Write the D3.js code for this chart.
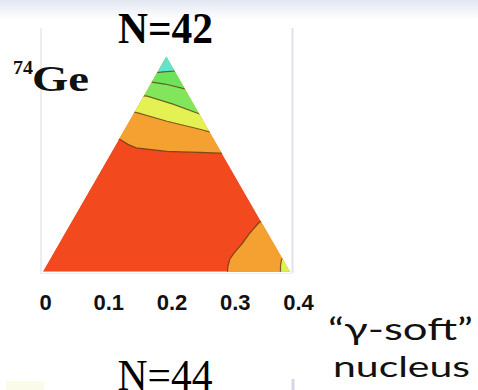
<!DOCTYPE html>
<html>
<head>
<meta charset="utf-8">
<script src="https://cdnjs.cloudflare.com/ajax/libs/d3/7.8.5/d3.min.js"></script>
<style>
body { margin: 0; background: #fff; }
</style>
</head>
<body>
<script>
// beta-gamma triangle (beta*cos(gamma), beta*sin(gamma))
var triangle = [[0, 0], [0.4, 0], [0.2, 0.346]];

var tickValues = [0, 0.1, 0.2, 0.3, 0.4];
var tickLabels = ["0", "0.1", "0.2", "0.3", "0.4"];

// contour boundaries, left to right
var redOrangeLine = [[0.1137, 0.2138], [0.1250, 0.2130], [0.1380, 0.2049], [0.1509, 0.1993], [0.2010, 0.1936], [0.2544, 0.1920], [0.2965, 0.1904]];
var orangeYellowLine = [[0.1412, 0.2575], [0.1525, 0.2559], [0.2010, 0.2421], [0.2544, 0.2292], [0.2786, 0.2227]];
var yellowGreenLine = [[0.1574, 0.2834], [0.1690, 0.2825], [0.2107, 0.2696], [0.2593, 0.2518]];
var greenGreenLine = [[0.1655, 0.3068], [0.1978, 0.3020], [0.2382, 0.2923]];
var greenCyanLine = [[0.1735, 0.3190], [0.1946, 0.3215], [0.2156, 0.3230]];

// bottom right corner, top to bottom
var cornerOrangeLine = [[0.3595, 0.0869], [0.3482, 0.0771], [0.3353, 0.0625], [0.3224, 0.0447], [0.3110, 0.0318], [0.3029, 0.0206], [0.2997, 0.0092], [0.2981, -0.007]];
var cornerYellowLine = [[0.3919, 0.0286], [0.3862, 0.0189], [0.3846, 0.0092], [0.3846, -0.007]];

var upperBands = [
    {line: redOrangeLine, color: "#f5a132"},
    {line: orangeYellowLine, color: "#e3f153"},
    {line: yellowGreenLine, color: "#82e65c"},
    {line: greenGreenLine, color: "#6ee25a"},
    {line: greenCyanLine, color: "#63e2cf"}
];
var cornerBands = [
    {line: cornerOrangeLine, color: "#f5a132"},
    {line: cornerYellowLine, color: "#dcef55"}
];

window.onload = function () {
    var w = 478, h = 390;

    var svg = d3.select("body").append("svg")
        .attr("width", w)
        .attr("height", h);

    var defs = svg.append("defs");
    var grad = defs.append("linearGradient")
        .attr("id", "topfade")
        .attr("x1", 0).attr("y1", 0).attr("x2", 0).attr("y2", 1);
    grad.append("stop").attr("offset", "0%").attr("stop-color", "#e3e7f1");
    grad.append("stop").attr("offset", "100%").attr("stop-color", "#ffffff");

    svg.append("rect")
        .attr("x", 0).attr("y", 0)
        .attr("width", w).attr("height", 20)
        .style("fill", "url(#topfade)");

    var x = d3.scaleLinear().domain([0, 0.4]).range([42.7, 290]);
    var y = d3.scaleLinear().domain([0, 0.346]).range([271.7, 56.7]);
    // labels sit a bit wider than the triangle itself
    var xLab = d3.scaleLinear().domain([0, 0.4]).range([45, 298]);

    var line = d3.line()
        .x(function (d) { return x(d[0]); })
        .y(function (d) { return y(d[1]); });

    // faint frame lines
    svg.append("line")
        .attr("x1", 41).attr("x2", 41).attr("y1", 28).attr("y2", 273)
        .style("stroke", "#ececf1").style("stroke-width", 2);
    svg.append("line")
        .attr("x1", 292.5).attr("x2", 292.5).attr("y1", 28).attr("y2", 273)
        .style("stroke", "#e3e0ee").style("stroke-width", 2);
    svg.append("line")
        .attr("x1", 40).attr("x2", 292).attr("y1", 273.5).attr("y2", 273.5)
        .style("stroke", "#eeeeee").style("stroke-width", 1);

    defs.append("clipPath").attr("id", "tri")
        .append("path")
        .attr("d", line(triangle) + "Z");

    var plot = svg.append("g").attr("clip-path", "url(#tri)");

    plot.append("path")
        .attr("d", line(triangle) + "Z")
        .style("fill", "#f2491f");

    plot.selectAll(".band")
        .data(upperBands)
        .enter()
        .append("path")
        .attr("class", "band")
        .attr("d", function (d) {
            return line(d.line.concat([[0.45, 0.45], [-0.05, 0.45]])) + "Z";
        })
        .style("fill", function (d) { return d.color; });

    plot.selectAll(".corner")
        .data(cornerBands)
        .enter()
        .append("path")
        .attr("class", "corner")
        .attr("d", function (d) {
            return line(d.line.concat([[0.45, -0.05], [0.45, 0.15]])) + "Z";
        })
        .style("fill", function (d) { return d.color; });

    // contour lines
    plot.selectAll(".contour")
        .data(upperBands.concat(cornerBands))
        .enter()
        .append("path")
        .attr("class", "contour")
        .attr("d", function (d) { return line(d.line); })
        .style("fill", "none")
        .style("stroke", "#5b3412")
        .style("stroke-opacity", 0.75)
        .style("stroke-width", 1.2);

    // tick labels
    var axis = d3.axisBottom(xLab)
        .tickValues(tickValues)
        .tickSize(0)
        .tickFormat(function (d, i) { return tickLabels[i]; });

    var gAxis = svg.append("g")
        .attr("transform", "translate(0, 289)")
        .call(axis);
    gAxis.select(".domain").remove();
    gAxis.selectAll("text")
        .attr("dy", 0)
        .attr("y", 21)
        .style("font-family", "'Liberation Sans', Arial, sans-serif")
        .style("font-weight", "bold")
        .style("font-size", "22px")
        .style("fill", "#111");

    // titles
    svg.append("text")
        .attr("x", 165.5).attr("y", 43)
        .attr("text-anchor", "middle")
        .attr("textLength", 95)
        .attr("lengthAdjust", "spacingAndGlyphs")
        .style("font-family", "'Liberation Serif', 'Times New Roman', serif")
        .style("font-weight", "bold")
        .style("font-size", "44px")
        .text("N=42");

    var ge = svg.append("text")
        .attr("x", 13).attr("y", 90)
        .style("font-family", "'Liberation Serif', 'Times New Roman', serif")
        .style("font-weight", "bold")
        .style("fill", "#111");
    ge.append("tspan")
        .attr("y", 74)
        .attr("textLength", 20)
        .attr("lengthAdjust", "spacingAndGlyphs")
        .style("font-size", "19px")
        .text("74");
    ge.append("tspan")
        .attr("y", 91)
        .attr("textLength", 57)
        .attr("lengthAdjust", "spacingAndGlyphs")
        .style("font-size", "36px")
        .text("Ge");

    svg.append("text")
        .attr("x", 328).attr("y", 340)
        .attr("textLength", 145)
        .attr("lengthAdjust", "spacingAndGlyphs")
        .style("font-family", "Lato, 'Open Sans', sans-serif")
        .style("font-size", "30px")
        .style("fill", "#111")
        .text("\u201c\u03b3-soft\u201d");

    svg.append("text")
        .attr("x", 333).attr("y", 377)
        .attr("textLength", 137)
        .attr("lengthAdjust", "spacingAndGlyphs")
        .style("font-family", "Lato, 'Open Sans', sans-serif")
        .style("font-size", "29px")
        .style("fill", "#111")
        .text("nucleus");

    svg.append("text")
        .attr("x", 165).attr("y", 390)
        .attr("text-anchor", "middle")
        .attr("textLength", 95)
        .attr("lengthAdjust", "spacingAndGlyphs")
        .style("font-family", "'Liberation Serif', 'Times New Roman', serif")
        .style("font-size", "44px")
        .text("N=44");

    // faint traces of the next panel
    svg.append("line")
        .attr("x1", 293).attr("x2", 293).attr("y1", 379).attr("y2", 390)
        .style("stroke", "#d9d4ea").style("stroke-width", 3);
    svg.append("rect")
        .attr("x", 6).attr("y", 381).attr("width", 38).attr("height", 9)
        .style("fill", "#fbfbe9");
};
</script>
</body>
</html>
